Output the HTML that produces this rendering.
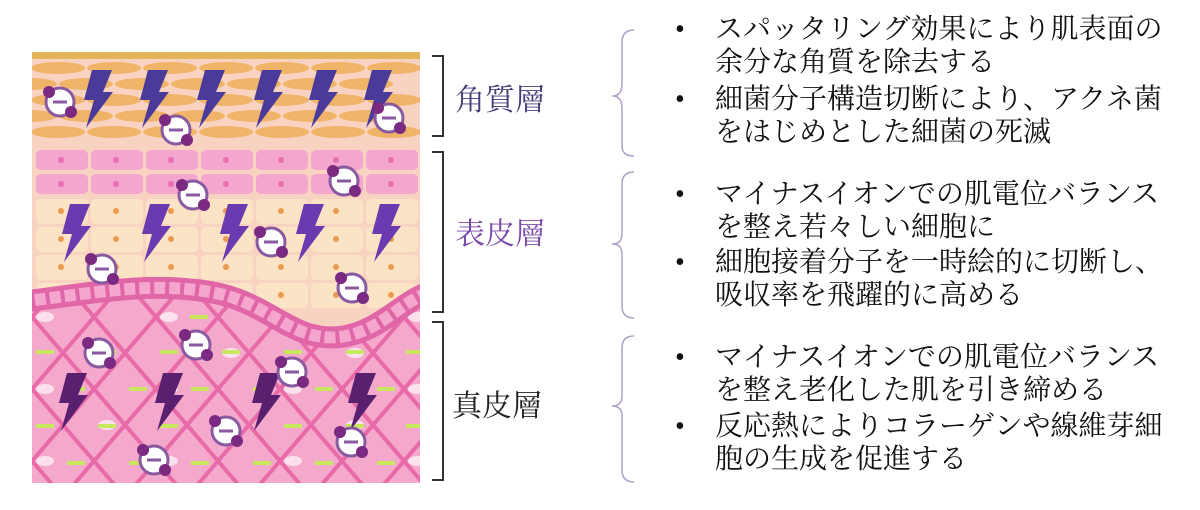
<!DOCTYPE html>
<html><head><meta charset="utf-8"><style>
html,body{margin:0;padding:0;background:#fff;width:1200px;height:510px;overflow:hidden}
svg{position:absolute;left:0;top:0}
.t{font-family:"Liberation Serif","Noto Serif CJK SC","Noto Sans CJK JP",serif;font-size:28px;fill:#111}
</style></head><body>
<svg width="1200" height="510" viewBox="0 0 1200 510">
<defs>
<clipPath id="c"><rect x="32" y="52" width="388" height="431"/></clipPath>
<pattern id="dg" width="62" height="72" patternUnits="userSpaceOnUse" x="1" y="281">
<path d="M0,0 L62,72 M62,0 L0,72" stroke="#e86aa8" stroke-width="4"/>
</pattern>
<path id="b" d="M10,0 L30,0 L21,22 L31,22 L4,58 L12,30 L2,30 Z"/>
<g id="ion"><circle r="14" fill="#fff" stroke="#8a5aa0" stroke-width="3"/><rect x="-7" y="-1.5" width="14" height="3" fill="#8a5aa0"/><circle cx="-11" cy="-10" r="6" fill="#7a2a80"/><circle cx="11" cy="10" r="6" fill="#7a2a80"/></g>
</defs>
<g clip-path="url(#c)">
<rect x="32" y="52" width="388" height="431" fill="#f9d3c2"/>
<rect x="32" y="52" width="388" height="7" fill="#e6b45a"/>
<g fill="#f0b468">
<g id="r1"><ellipse cx="58" cy="68" rx="27" ry="6"/><ellipse cx="114" cy="68" rx="27" ry="6"/><ellipse cx="170" cy="68" rx="27" ry="6"/><ellipse cx="226" cy="68" rx="27" ry="6"/><ellipse cx="282" cy="68" rx="27" ry="6"/><ellipse cx="338" cy="68" rx="27" ry="6"/><ellipse cx="394" cy="68" rx="27" ry="6"/></g>
<use href="#r1" x="-28" y="16"/><use href="#r1" y="32"/><use href="#r1" x="-28" y="48"/><use href="#r1" y="64"/>
</g>
<g fill="#f4a6cf"><g id="pr"><rect x="36" y="150" width="52" height="20" rx="5"/><rect x="91" y="150" width="52" height="20" rx="5"/><rect x="146" y="150" width="52" height="20" rx="5"/><rect x="201" y="150" width="52" height="20" rx="5"/><rect x="256" y="150" width="52" height="20" rx="5"/><rect x="311" y="150" width="52" height="20" rx="5"/><rect x="366" y="150" width="52" height="20" rx="5"/></g><use href="#pr" y="24"/></g>
<g fill="#e870b0"><g id="pd"><circle cx="61" cy="160" r="3"/><circle cx="116" cy="160" r="3"/><circle cx="171" cy="160" r="3"/><circle cx="226" cy="160" r="3"/><circle cx="281" cy="160" r="3"/><circle cx="336" cy="160" r="3"/><circle cx="391" cy="160" r="3"/></g><use href="#pd" y="24"/></g>
<g fill="#fbe3c6"><g id="br"><rect x="36" y="199" width="52" height="25" rx="5"/><rect x="91" y="199" width="52" height="25" rx="5"/><rect x="146" y="199" width="52" height="25" rx="5"/><rect x="201" y="199" width="52" height="25" rx="5"/><rect x="256" y="199" width="52" height="25" rx="5"/><rect x="311" y="199" width="52" height="25" rx="5"/><rect x="366" y="199" width="52" height="25" rx="5"/></g><use href="#br" y="28"/><use href="#br" y="56"/><use href="#br" y="84"/></g>
<g fill="#ec9a50"><g id="bd"><circle cx="61" cy="211" r="3"/><circle cx="116" cy="211" r="3"/><circle cx="171" cy="211" r="3"/><circle cx="226" cy="211" r="3"/><circle cx="281" cy="211" r="3"/><circle cx="336" cy="211" r="3"/><circle cx="391" cy="211" r="3"/></g><use href="#bd" y="28"/><use href="#bd" y="56"/><use href="#bd" y="84"/></g>
<path d="M20,300 C100,290 150,280 210,290 C270,300 290,340 340,335 C380,330 400,300 430,290 L430,490 L20,490 Z" fill="#f4a9cc"/>
<path d="M20,300 C100,290 150,280 210,290 C270,300 290,340 340,335 C380,330 400,300 430,290 L430,490 L20,490 Z" fill="url(#dg)"/>
<g fill="#fbe0ee"><ellipse cx="45" cy="317" rx="9" ry="5"/><ellipse cx="107" cy="353" rx="9" ry="5"/><ellipse cx="169" cy="317" rx="9" ry="5"/><ellipse cx="231" cy="353" rx="9" ry="5"/><ellipse cx="355" cy="353" rx="9" ry="5"/><ellipse cx="417" cy="317" rx="9" ry="5"/><ellipse cx="45" cy="389" rx="9" ry="5"/><ellipse cx="169" cy="389" rx="9" ry="5"/><ellipse cx="293" cy="389" rx="9" ry="5"/><ellipse cx="107" cy="425" rx="9" ry="5"/><ellipse cx="231" cy="425" rx="9" ry="5"/><ellipse cx="355" cy="425" rx="9" ry="5"/><ellipse cx="45" cy="461" rx="9" ry="5"/><ellipse cx="169" cy="461" rx="9" ry="5"/><ellipse cx="293" cy="461" rx="9" ry="5"/><ellipse cx="417" cy="461" rx="9" ry="5"/><ellipse cx="417" cy="389" rx="9" ry="5"/></g>
<g fill="#c8e860"><g id="gr"><rect x="36" y="350" width="18" height="4"/><rect x="98" y="350" width="18" height="4"/><rect x="160" y="350" width="18" height="4"/><rect x="222" y="350" width="18" height="4"/><rect x="284" y="350" width="18" height="4"/><rect x="346" y="350" width="18" height="4"/><rect x="406" y="350" width="18" height="4"/></g><use href="#gr" x="31" y="37"/><use href="#gr" y="74"/><use href="#gr" x="31" y="111"/><rect x="190" y="315" width="18" height="4"/></g>
<path d="M20,302 C100,292 150,282 210,292 C270,302 290,342 340,337 C380,332 400,302 430,292" fill="none" stroke="#e066a8" stroke-width="22"/>
<path d="M20,302 C100,292 150,282 210,292 C270,302 290,342 340,337 C380,332 400,302 430,292" fill="none" stroke="#f4a6cf" stroke-width="12" stroke-dasharray="11 4"/>
<g fill="#4a3a9a"><use href="#b" x="82" y="70"/><use href="#b" x="138" y="70"/><use href="#b" x="195" y="70"/><use href="#b" x="252" y="70"/><use href="#b" x="307" y="70"/><use href="#b" x="362" y="70"/></g>
<g fill="#6a3ab0"><use href="#b" x="60" y="204"/><use href="#b" x="140" y="204"/><use href="#b" x="218" y="204"/><use href="#b" x="294" y="204"/><use href="#b" x="370" y="204"/></g>
<g fill="#5a2070"><use href="#b" x="57" y="373"/><use href="#b" x="153" y="373"/><use href="#b" x="250" y="373"/><use href="#b" x="346" y="373"/></g>
<use href="#ion" x="60" y="102"/><use href="#ion" x="176" y="130"/><use href="#ion" x="389" y="118"/><use href="#ion" x="193" y="195"/><use href="#ion" x="344" y="181"/><use href="#ion" x="271" y="242"/><use href="#ion" x="102" y="269"/><use href="#ion" x="352" y="288"/><use href="#ion" x="99" y="353"/><use href="#ion" x="196" y="345"/><use href="#ion" x="292" y="372"/><use href="#ion" x="154" y="460"/><use href="#ion" x="226" y="431"/><use href="#ion" x="351" y="442"/>
</g>
<g fill="none" stroke="#333" stroke-width="2">
<path d="M432,56 H443 V136 H432"/><path d="M432,152 H443 V312 H432"/><path d="M432,322 H443 V480 H432"/>
</g>
<g fill="none" stroke="#b0a0c8" stroke-width="1.5">
<path d="M634,30 Q622,30 622,42 V84 Q622,96 612,96 Q622,96 622,108 V146 Q622,156 634,156"/>
<path d="M634,172 Q622,172 622,184 V234 Q622,244 612,244 Q622,244 622,254 V306 Q622,318 634,318"/>
<path d="M634,336 Q622,336 622,348 V396 Q622,406 612,406 Q622,406 622,416 V470 Q622,482 634,482"/>
</g>
<text x="455" y="110" class="t" style="font-size:30px;fill:#4a3a7a">角質層</text>
<text x="455" y="244" class="t" style="font-size:30px;fill:#7a4aaa">表皮層</text>
<text x="452" y="416" class="t" style="font-size:30px;fill:#222">真皮層</text>
<g class="t">
<text x="675" y="38">•</text><text x="715" y="38">スパッタリング効果により肌表面の</text>
<text x="715" y="71">余分な角質を除去する</text>
<text x="675" y="108">•</text><text x="715" y="108">細菌分子構造切断により、アクネ菌</text>
<text x="715" y="141">をはじめとした細菌の死滅</text>
<text x="675" y="203">•</text><text x="715" y="203">マイナスイオンでの肌電位バランス</text>
<text x="715" y="236">を整え若々しい細胞に</text>
<text x="675" y="271">•</text><text x="715" y="271">細胞接着分子を一時絵的に切断し、</text>
<text x="715" y="304">吸収率を飛躍的に高める</text>
<text x="675" y="366">•</text><text x="715" y="366">マイナスイオンでの肌電位バランス</text>
<text x="715" y="399">を整え老化した肌を引き締める</text>
<text x="675" y="435">•</text><text x="715" y="435">反応熱によりコラーゲンや線維芽細</text>
<text x="715" y="468">胞の生成を促進する</text>
</g>
</svg>
</body></html>
